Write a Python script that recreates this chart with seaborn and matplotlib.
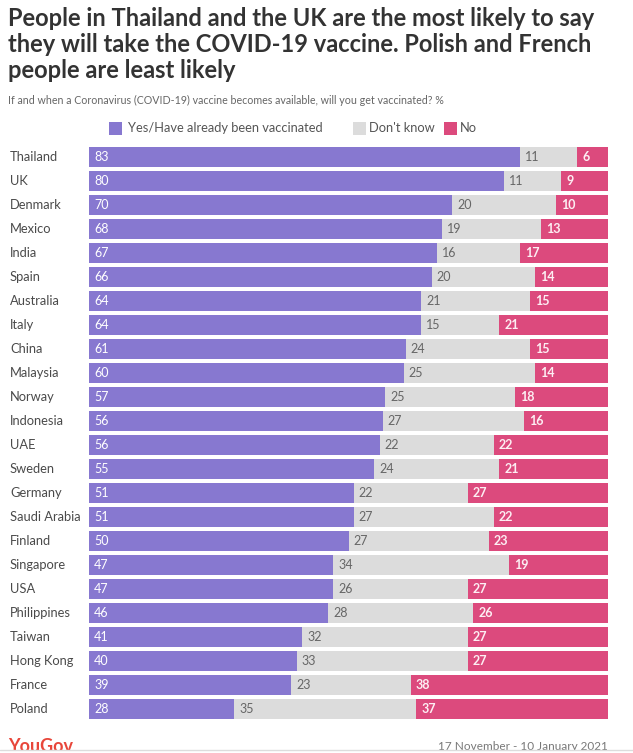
import matplotlib
matplotlib.use("Agg")
import matplotlib.pyplot as plt
import seaborn as sns
import pandas as pd
import numpy as np

countries = ["Thailand", "UK", "Denmark", "Mexico", "India", "Spain", "Australia", "Italy",
             "China", "Malaysia", "Norway", "Indonesia", "UAE", "Sweden", "Germany",
             "Saudi Arabia", "Finland", "Singapore", "USA", "Philippines", "Taiwan",
             "Hong Kong", "France", "Poland"]
yes_vals = [83, 80, 70, 68, 67, 66, 64, 64, 61, 60, 57, 56, 56, 55, 51, 51, 50, 47, 47, 46, 41, 40, 39, 28]
dk_vals = [11, 11, 20, 19, 16, 20, 21, 15, 24, 25, 25, 27, 22, 24, 22, 27, 27, 34, 26, 28, 32, 33, 23, 35]
no_vals = [6, 9, 10, 13, 17, 14, 15, 21, 15, 14, 18, 16, 22, 21, 27, 22, 23, 19, 27, 26, 27, 27, 38, 37]
series_names = ["Yes/Have already been vaccinated", "Don't know", "No"]

title = "People in Thailand and the UK are the most likely to say\nthey will take the COVID-19 vaccine. Polish and French\npeople are least likely"
subtitle = "If and when a Coronavirus (COVID-19) vaccine becomes available, will you get vaccinated? %"
date_text = "17 November - 10 January 2021"

C_YES = "#8778D0"
C_DK = "#DCDCDC"
C_NO = "#DC4A7D"

df = pd.DataFrame({"country": countries, "yes": yes_vals, "dk": dk_vals, "no": no_vals})
tot = df[["yes", "dk", "no"]].sum(axis=1)
df["s_yes"] = df["yes"] / tot * 100
df["s_dk"] = df["dk"] / tot * 100
df["s_no"] = df["no"] / tot * 100
df["c1"] = df["s_yes"]
df["c2"] = df["s_yes"] + df["s_dk"]
df["c3"] = df["c2"] + df["s_no"]

sns.set_theme(style="white")
plt.rcParams["font.family"] = ["Lato", "DejaVu Sans"]

W, H = 633, 753
fig = plt.figure(figsize=(W / 100, H / 100), dpi=100)
fig.patch.set_facecolor("white")

left, right = 89 / W, 608 / W
top_px, bot_px = 145, 721
ax = fig.add_axes([left, 1 - bot_px / H, right - left, (bot_px - top_px) / H])

for col, color in [("c3", C_NO), ("c2", C_DK), ("c1", C_YES)]:
    sns.barplot(data=df, x=col, y="country", orient="h", color=color, width=0.8,
                saturation=1, ax=ax, edgecolor="none", linewidth=0)

ax.set_xlim(0, 100)
ax.set_xlabel("")
ax.set_ylabel("")
ax.set_xticks([])
for s in ax.spines.values():
    s.set_visible(False)
ax.tick_params(axis="y", length=0, pad=0)
ax.set_yticklabels([])

pad = 1.0
for i, r in df.iterrows():
    ax.text(-79 / 5.19, i, r["country"], ha="left", va="center", fontsize=9.3,
            color="#4a4a4a", clip_on=False)
    ax.text(pad, i, str(r["yes"]), ha="left", va="center", fontsize=9, color="white")
    ax.text(r["c1"] + pad, i, str(r["dk"]), ha="left", va="center", fontsize=9, color="#666666")
    ax.text(r["c2"] + pad, i, str(r["no"]), ha="left", va="center", fontsize=9,
            color="#fdeef3", fontweight="bold")

# Title & subtitle
fig.text(8 / W, 1 - 7 / H, title, ha="left", va="top", fontsize=17, fontweight="bold",
         color="#333333", linespacing=1.17)
fig.text(8 / W, 1 - 100 / H, subtitle, ha="left", va="center", fontsize=7.7, color="#666666")

# Legend
ly = 1 - 128 / H
items = [(109, 128, series_names[0], C_YES), (353, 369, series_names[1], C_DK), (444, 460, series_names[2], C_NO)]
for sx, tx, lab, c in items:
    fig.patches.append(plt.Rectangle((sx / W, ly - 6.5 / H), 13 / W, 13 / H, transform=fig.transFigure,
                                     facecolor=c, edgecolor="none"))
    fig.text(tx / W, ly, lab, ha="left", va="center", fontsize=9.3, color="#555555")

# Footer
fig.text(8 / W, 1 - 738 / H, "YouGov", ha="left", va="top", fontsize=13, fontweight="bold",
         color="#e8463a")
fig.text(608 / W, 1 - 741 / H, date_text, ha="right", va="top", fontsize=8.5, color="#777777")
fig.patches.append(plt.Rectangle((0, 0), 1, 3 / H, transform=fig.transFigure,
                                 facecolor="white", edgecolor="none", zorder=10))
fig.lines.append(plt.Line2D([0, 1], [3 / H, 3 / H], transform=fig.transFigure,
                            color="#dddddd", linewidth=1, zorder=11))

fig.savefig("out.png", dpi=100, facecolor="white")
